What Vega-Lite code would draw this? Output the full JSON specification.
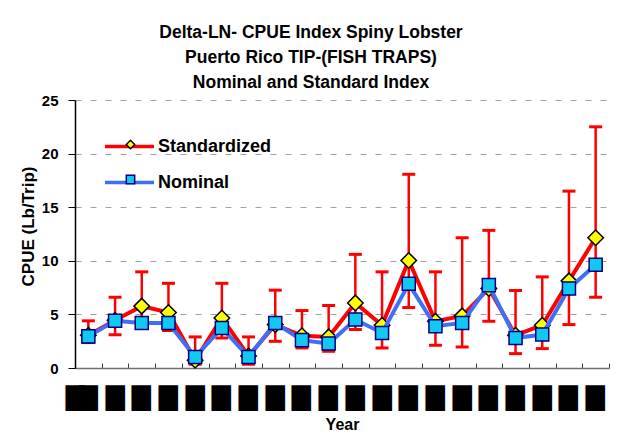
{
  "$schema": "https://vega.github.io/schema/vega-lite/v6.json",
  "width": 534,
  "height": 268,
  "autosize": "none",
  "padding": {"left": 75, "top": 100, "right": 22, "bottom": 73},
  "background": "white",
  "title": {
    "text": ["Delta-LN- CPUE Index Spiny Lobster", "Puerto Rico TIP-(FISH TRAPS)", "Nominal and Standard Index"],
    "font": "Liberation Sans", "fontSize": 17.5, "fontWeight": "bold", "color": "black",
    "lineHeight": 25, "anchor": "middle", "dx": -31, "offset": 2
  },
  "data": {
    "values": [
      {"i": 1, "Standardized": 3.05, "Nominal": 2.95, "lo": 2.37, "hi": 4.4},
      {"i": 2, "Standardized": 4.45, "Nominal": 4.4, "lo": 3.1, "hi": 6.6},
      {"i": 3, "Standardized": 5.77, "Nominal": 4.2, "lo": 3.74, "hi": 8.97},
      {"i": 4, "Standardized": 5.17, "Nominal": 4.2, "lo": 3.5, "hi": 7.9},
      {"i": 5, "Standardized": 0.72, "Nominal": 1.03, "lo": 0.35, "hi": 2.9},
      {"i": 6, "Standardized": 4.67, "Nominal": 3.74, "lo": 2.8, "hi": 7.9},
      {"i": 7, "Standardized": 1.12, "Nominal": 1.03, "lo": 0.35, "hi": 2.9},
      {"i": 8, "Standardized": 4.05, "Nominal": 4.2, "lo": 2.49, "hi": 7.26},
      {"i": 9, "Standardized": 3.0, "Nominal": 2.6, "lo": 1.87, "hi": 5.36},
      {"i": 10, "Standardized": 2.9, "Nominal": 2.28, "lo": 1.56, "hi": 5.83},
      {"i": 11, "Standardized": 6.07, "Nominal": 4.52, "lo": 3.59, "hi": 10.6},
      {"i": 12, "Standardized": 3.99, "Nominal": 3.27, "lo": 1.87, "hi": 8.97},
      {"i": 13, "Standardized": 10.03, "Nominal": 7.85, "lo": 5.64, "hi": 18.07},
      {"i": 14, "Standardized": 4.36, "Nominal": 3.9, "lo": 2.12, "hi": 8.97},
      {"i": 15, "Standardized": 4.86, "Nominal": 4.2, "lo": 1.96, "hi": 12.15},
      {"i": 16, "Standardized": 7.42, "Nominal": 7.73, "lo": 4.36, "hi": 12.84},
      {"i": 17, "Standardized": 3.06, "Nominal": 2.8, "lo": 1.34, "hi": 7.23},
      {"i": 18, "Standardized": 3.99, "Nominal": 3.12, "lo": 1.81, "hi": 8.5},
      {"i": 19, "Standardized": 8.13, "Nominal": 7.42, "lo": 4.05, "hi": 16.5},
      {"i": 20, "Standardized": 12.15, "Nominal": 9.63, "lo": 6.6, "hi": 22.5}
    ]
  },
  "encoding": {
    "x": {
      "field": "i", "type": "ordinal",
      "scale": {"type": "band", "paddingInner": 0, "paddingOuter": 0},
      "axis": {
        "title": "Year", "titleFont": "Liberation Sans", "titleFontSize": 16, "titleFontWeight": "bold", "titleColor": "black", "titlePadding": 6,
        "labelExpr": "'██'", "labelAngle": 270, "labelAlign": "right", "labelBaseline": "middle",
        "labelFont": "DejaVu Sans", "labelFontSize": 16.5, "labelColor": "black", "labelPadding": 22,
        "tickBand": "extent", "tickSize": -5, "tickColor": "#404040", "domainColor": "#707070", "domainWidth": 1.5,
        "grid": false
      }
    }
  },
  "layer": [
    {
      "mark": {"type": "rule", "color": "#FF0000", "strokeWidth": 2.5},
      "encoding": {"y": {"field": "lo", "type": "quantitative"}, "y2": {"field": "hi"}}
    },
    {
      "mark": {"type": "tick", "color": "#FF0000", "thickness": 3, "size": 13, "opacity": 1},
      "encoding": {"y": {"field": "lo", "type": "quantitative"}}
    },
    {
      "mark": {"type": "tick", "color": "#FF0000", "thickness": 3, "size": 13, "opacity": 1},
      "encoding": {"y": {"field": "hi", "type": "quantitative"}}
    },
    {
      "mark": {"type": "line", "strokeWidth": 4},
      "encoding": {
        "y": {"field": "Standardized", "type": "quantitative"},
        "color": {
          "datum": "Standardized",
          "scale": {"domain": ["Standardized", "Nominal"], "range": ["#FF0000", "#3F6FF5"]},
          "legend": {
            "orient": "none", "legendX": 28, "legendY": 20, "title": null, "padding": 0,
            "symbolType": "stroke", "symbolSize": 2401, "symbolStrokeWidth": 3.5,
            "labelFont": "Liberation Sans", "labelFontSize": 18, "labelFontWeight": "bold", "labelColor": "black",
            "labelOffset": 2, "rowPadding": 0
          }
        }
      }
    },
    {
      "mark": {"type": "point", "filled": true, "size": 240, "strokeWidth": 1.5, "opacity": 1},
      "encoding": {
        "y": {"field": "Standardized", "type": "quantitative"},
        "shape": {
          "datum": "S",
          "scale": {"domain": ["S", "N"], "range": ["diamond", "square"]},
          "legend": {
            "orient": "none", "legendX": 47, "legendY": 36, "title": null, "padding": 0,
            "symbolSize": 70, "symbolStrokeWidth": 1.5,
            "labelExpr": "''", "labelFontSize": 17, "rowPadding": 17
          }
        },
        "fill": {
          "datum": "S",
          "scale": {"domain": ["S", "N"], "range": ["#FFFF00", "#10C8F0"]}
        },
        "stroke": {
          "datum": "S",
          "scale": {"domain": ["S", "N"], "range": ["#000000", "#000080"]}
        }
      }
    },
    {
      "mark": {"type": "line", "strokeWidth": 4},
      "encoding": {
        "y": {"field": "Nominal", "type": "quantitative"},
        "color": {"datum": "Nominal"}
      }
    },
    {
      "mark": {"type": "point", "filled": true, "size": 170, "strokeWidth": 1.5, "opacity": 1},
      "encoding": {
        "y": {
          "field": "Nominal", "type": "quantitative",
          "scale": {"domain": [0, 25], "nice": false},
          "axis": {
            "title": "CPUE (Lb/Trip)", "titleFont": "Liberation Sans", "titleFontSize": 17, "titleFontWeight": "bold", "titleColor": "black",
            "titleX": -47, "titleY": 126, "titleAngle": -90, "titleAlign": "center", "titleBaseline": "middle",
            "values": [0, 5, 10, 15, 20, 25],
            "labelFont": "Liberation Sans", "labelFontSize": 15, "labelFontWeight": "bold", "labelColor": "black", "labelPadding": 10,
            "tickSize": 7, "tickColor": "black", "domainColor": "black", "domainWidth": 1.5,
            "grid": true, "gridDash": [6, 9], "gridColor": "#A0A0A0", "gridWidth": 1.2
          }
        },
        "shape": {"datum": "N"},
        "fill": {"datum": "N"},
        "stroke": {"datum": "N"}
      }
    }
  ],
  "config": {
    "view": {"stroke": null},
    "font": "Liberation Sans"
  }
}
